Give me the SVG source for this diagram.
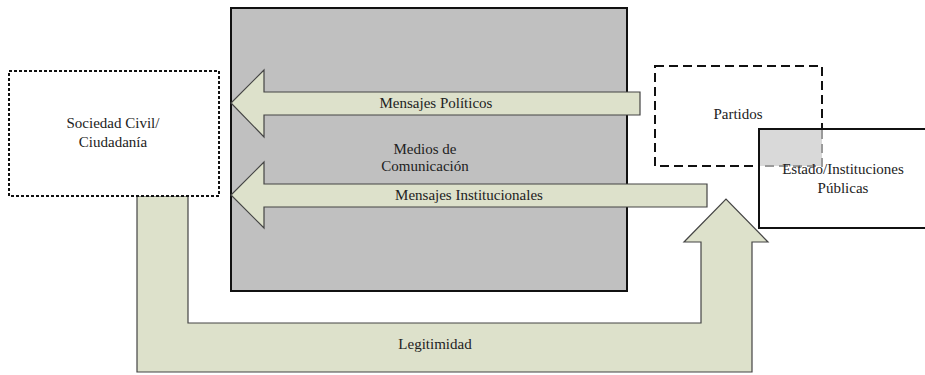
<svg xmlns="http://www.w3.org/2000/svg" width="925" height="375" viewBox="0 0 925 375">
<style>
.t{font-family:'Liberation Serif','Times New Roman',serif;font-size:15px;fill:#222;text-anchor:middle}
.arr{fill:#DDE1CB;stroke:#444;stroke-width:1.2}
</style>
<rect width="925" height="375" fill="#fff"/>
<g id="medios">
<rect x="231" y="8" width="396" height="283" fill="#C0C0C0" stroke="#111" stroke-width="2"/>
<text class="t" x="425" y="154">Medios de</text>
<text class="t" x="425" y="171">Comunicación</text>
</g>
<g id="connectors">
<g id="legitimidad">
<path class="arr" d="M137,196 L137,372 L752,372 L752,242 L768,242 L726,199 L684,242 L701,242 L701,323 L188,323 L188,196 Z"/>
<text class="t" x="435" y="349">Legitimidad</text>
</g>
<g id="politicos">
<path class="arr" d="M640,92 L264,92 L264,70 L231,103 L264,137 L264,115 L640,115 Z"/>
<text class="t" x="436" y="108">Mensajes Políticos</text>
</g>
<g id="institucionales">
<path class="arr" d="M707,184 L264,184 L264,162 L231,195 L264,228 L264,207 L707,207 Z"/>
<text class="t" x="469" y="200">Mensajes Institucionales</text>
</g>
</g>
<g id="sociedad">
<rect x="9" y="71" width="210" height="125" fill="#fff" stroke="#111" stroke-width="2" stroke-dasharray="3,2"/>
<text class="t" x="113" y="128">Sociedad Civil/</text>
<text class="t" x="113" y="147">Ciudadanía</text>
</g>
<g id="partidos">
<rect x="655" y="66" width="167" height="100" fill="#fff" stroke="#111" stroke-width="2" stroke-dasharray="9,5"/>
<text class="t" x="738" y="119">Partidos</text>
</g>
<g id="estado">
<rect x="759" y="129" width="175" height="99" fill="#fff" stroke="#111" stroke-width="2"/>
<rect x="760" y="130" width="62" height="36" fill="#D9D9D9"/>
<path d="M822,130 L822,166 L760,166" fill="none" stroke="#9a9a9a" stroke-width="2" stroke-dasharray="9,5"/>
<text class="t" x="843" y="174">Estado/Instituciones</text>
<text class="t" x="843" y="193">Públicas</text>
</g>
</svg>
